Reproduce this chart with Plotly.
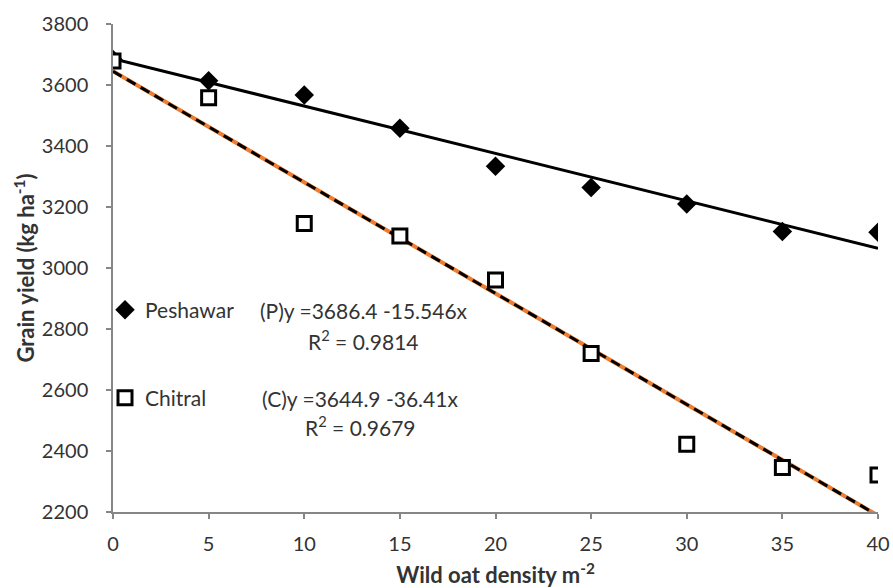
import plotly.graph_objects as go

# Data
density = [0, 5, 10, 15, 20, 25, 30, 35, 40]
peshawar = [3684, 3614, 3567, 3458, 3334, 3264, 3210, 3120, 3117]
chitral = [3679, 3558, 3146, 3105, 2961, 2720, 2422, 2346, 2321]

# Regression coefficients shown on the chart
p_intercept, p_slope, p_r2 = 3686.4, -15.546, 0.9814
c_intercept, c_slope, c_r2 = 3644.9, -36.41, 0.9679

x_ticks = [0, 5, 10, 15, 20, 25, 30, 35, 40]
y_ticks = [2200, 2400, 2600, 2800, 3000, 3200, 3400, 3600, 3800]

FONT = "Lato"
TXT = "#333333"
trend_x = [density[0], density[-1]]
p_trend = [p_intercept + p_slope * x for x in trend_x]
c_trend = [c_intercept + c_slope * x for x in trend_x]

fig = go.Figure()

fig.add_trace(go.Scatter(x=trend_x, y=p_trend, mode="lines",
                         line=dict(color="black", width=3), showlegend=False,
                         hoverinfo="skip"))
fig.add_trace(go.Scatter(x=trend_x, y=c_trend, mode="lines",
                         line=dict(color="#ED7D31", width=4), showlegend=False,
                         hoverinfo="skip"))
fig.add_trace(go.Scatter(x=trend_x, y=c_trend, mode="lines",
                         line=dict(color="black", width=3, dash="10px,6px"),
                         showlegend=False, hoverinfo="skip"))

fig.add_trace(go.Scatter(x=density, y=peshawar, mode="markers", name="Peshawar",
                         marker=dict(symbol="diamond", size=15, color="black"),
                         legend="legend"))
fig.add_trace(go.Scatter(x=density, y=chitral, mode="markers", name="Chitral",
                         marker=dict(symbol="square", size=14, color="white",
                                     line=dict(color="black", width=3)),
                         legend="legend2"))

W, H = 893, 588
L, T, PW, PH = 113, 24, 765, 488


def px(xp):
    return (xp - L) / PW


def py(yp):
    return (T + PH - yp) / PH


ann_font = dict(family=FONT, size=21, color=TXT)
annotations = [
    dict(x=364, y=310, text="(P)y =%.1f -%.3fx" % (p_intercept, -p_slope)),
    dict(x=363, y=340, text="R<sup>2</sup> = %.4f" % p_r2),
    dict(x=360, y=398, text="(C)y =%.1f -%.2fx" % (c_intercept, -c_slope)),
    dict(x=360, y=426, text="R<sup>2</sup> = %.4f" % c_r2),
]
ann_list = []
for a in annotations:
    ann_list.append(dict(
        x=px(a["x"]), y=py(a["y"]), xref="paper", yref="paper",
        text=a["text"], showarrow=False, font=ann_font,
        xanchor="center", yanchor="middle"))

axis_common = dict(
    showgrid=False, zeroline=False, showline=True, linecolor="#868686", linewidth=1.5,
    ticks="outside", ticklen=5, tickwidth=1.5, tickcolor="#868686",
    tickfont=dict(family=FONT, size=20, color=TXT),
)

legend_common = dict(xanchor="left", yanchor="middle", bgcolor="rgba(0,0,0,0)",
                     font=dict(family=FONT, size=21, color=TXT), itemwidth=30)

fig.update_layout(
    width=W, height=H,
    margin=dict(l=L, r=W - L - PW, t=T, b=H - T - PH, autoexpand=False),
    paper_bgcolor="white", plot_bgcolor="white",
    font=dict(family=FONT, color=TXT),
    xaxis=dict(range=[0, 40], tickvals=x_ticks, ticktext=[str(v) for v in x_ticks],
               title=dict(text="<b>Wild oat density m<sup>-2</sup></b>",
                          font=dict(family=FONT, size=22, color=TXT), standoff=17),
               ticklabelstandoff=8, **axis_common),
    yaxis=dict(range=[2200, 3800], tickvals=y_ticks, ticktext=[str(v) for v in y_ticks],
               title=dict(text="<b>Grain yield (kg ha<sup>-1</sup>)</b>",
                          font=dict(family=FONT, size=22, color=TXT), standoff=1),
               ticklabelstandoff=14, **axis_common),
    legend=dict(x=px(105), y=py(310), **legend_common),
    legend2=dict(x=px(105), y=py(398), **legend_common),
    annotations=ann_list,
)

fig.write_html(
    "out.html",
    config={"displayModeBar": False},
    post_script="document.body.style.margin='0';document.body.style.overflow='hidden';",
)
